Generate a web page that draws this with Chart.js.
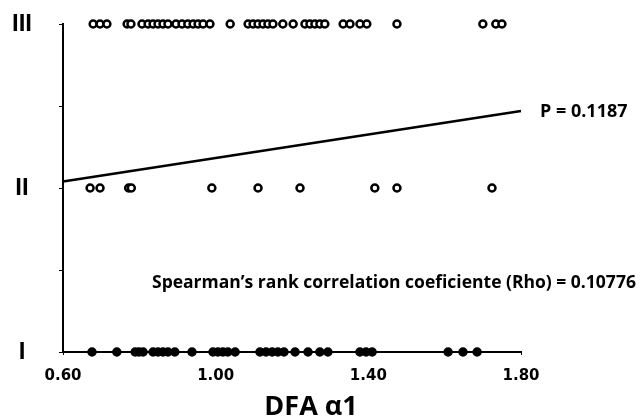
<!DOCTYPE html>
<html>
<head>
<meta charset="utf-8">
<script src="https://cdn.jsdelivr.net/npm/chart.js@4"></script>
<style>
  body { margin: 0; background: #fff; }
  #wrap { width: 641px; height: 420px; }
</style>
</head>
<body>
<div id="wrap"><canvas id="dfaChart" width="641" height="420"></canvas></div>
<script>
// -------------------------------
// DATA
// -------------------------------
// DFA α1 values for each group; group I = 1, II = 2, III = 3
const groupIII = [0.679, 0.697, 0.715, 0.768, 0.778, 0.807, 0.823, 0.836, 0.849, 0.862,
    0.875, 0.896, 0.912, 0.927, 0.941, 0.954, 0.967, 0.985, 1.038, 1.085,
    1.098, 1.111, 1.124, 1.137, 1.150, 1.176, 1.203, 1.234, 1.247, 1.260,
    1.273, 1.286, 1.334, 1.352, 1.378, 1.396, 1.475, 1.700, 1.734, 1.750];
const groupII = [0.671, 0.697, 0.772, 0.779, 0.990, 1.111, 1.221, 1.417, 1.475, 1.724];
const groupI = [0.676, 0.741, 0.789, 0.799, 0.810, 0.836, 0.849, 0.862, 0.875, 0.893,
    0.938, 0.993, 1.006, 1.019, 1.032, 1.051, 1.116, 1.132, 1.148, 1.163,
    1.179, 1.208, 1.242, 1.273, 1.294, 1.378, 1.394, 1.410, 1.609, 1.648, 1.685];

// regression line end points
const trendX = [0.6, 1.8];
const trendY = [2.04, 2.47];

const groupLabels = ["I", "II", "III"];
const xTicks = [0.6, 1.0, 1.4, 1.8];

const pValueText = "P = 0.1187";
const rhoText = "Spearman\u2019s rank correlation coeficiente (Rho) = 0.10776";
const xTitle = "DFA \u03b11";

const toPoints = (xs, level) => xs.map(x => ({ x: x, y: level }));

// -------------------------------
// TEXT LABELS
// -------------------------------
const annotations = {
    id: "annotations",
    afterDraw(chart) {
        const c = chart.ctx;
        c.save();
        c.fillStyle = "#000";
        c.textBaseline = "middle";
        c.textAlign = "left";
        c.font = "bold 18px 'Open Sans'";
        c.fillText(pValueText, 540, 112);
        c.font = "bold 17.5px 'Open Sans'";
        c.fillText(rhoText, 152, 283);
        c.font = "bold 27px 'Open Sans'";
        c.textAlign = "center";
        c.fillText(xTitle, 311, 407);
        c.restore();
    }
};

// -------------------------------
// CHART
// -------------------------------
const openDot = {
    pointRadius: 3.5,
    pointBorderWidth: 2.5,
    pointBorderColor: "#000",
    pointBackgroundColor: "#fff",
    showLine: false,
    clip: false
};

new Chart(document.getElementById("dfaChart"), {
    type: "scatter",
    data: {
        datasets: [
            { label: "III", data: toPoints(groupIII, 3), ...openDot },
            { label: "II", data: toPoints(groupII, 2), ...openDot },
            {
                label: "I",
                data: toPoints(groupI, 1),
                ...openDot,
                pointBackgroundColor: "#000"
            },
            {
                label: "trend",
                data: trendX.map((x, i) => ({ x: x, y: trendY[i] })),
                showLine: true,
                borderColor: "#000",
                borderWidth: 2.5,
                pointRadius: 0,
                clip: false
            }
        ]
    },
    options: {
        responsive: false,
        animation: false,
        layout: { padding: { left: 0, right: 120, top: 24, bottom: 0 } },
        plugins: {
            legend: { display: false },
            tooltip: { enabled: false }
        },
        scales: {
            x: {
                type: "linear",
                min: 0.6,
                max: 1.8,
                afterBuildTicks: s => { s.ticks = xTicks.map(v => ({ value: v })); },
                afterFit: s => { s.height = 68; s.paddingLeft = 0; s.paddingRight = 0; },
                border: { color: "#000", width: 2 },
                grid: { drawOnChartArea: false, drawTicks: true, tickLength: 3, color: "#000" },
                ticks: {
                    color: "#000",
                    padding: 12,
                    font: { family: "DejaVu Sans", size: 15, weight: "bold" },
                    callback: v => Number(v).toFixed(2)
                }
            },
            y: {
                type: "linear",
                min: 1,
                max: 3,
                ticks: {
                    stepSize: 0.5,
                    color: "#000",
                    crossAlign: "center",
                    padding: 27,
                    font: { family: "Liberation Sans", size: 24, weight: "bold" },
                    callback: v => Number.isInteger(v) ? groupLabels[v - 1] : ""
                },
                afterFit: s => { s.width = 63; s.paddingTop = 0; s.paddingBottom = 0; },
                border: { color: "#000", width: 2 },
                grid: { drawOnChartArea: false, drawTicks: true, tickLength: 4, color: "#000" }
            }
        }
    },
    plugins: [annotations]
});
</script>
</body>
</html>
